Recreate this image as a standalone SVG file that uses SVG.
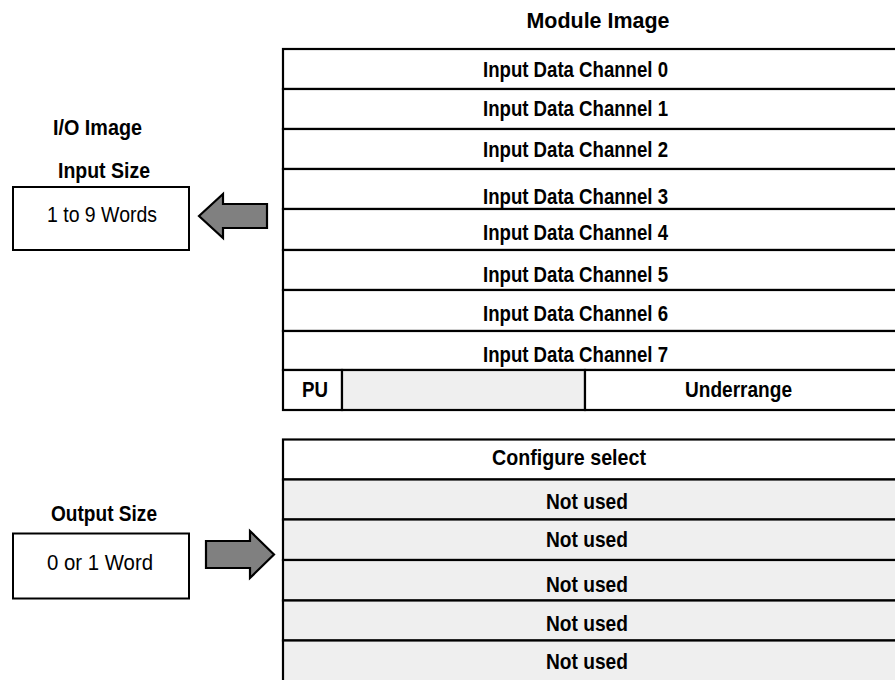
<svg xmlns="http://www.w3.org/2000/svg" width="895" height="680" viewBox="0 0 895 680">
<style>
.b{font-family:"Liberation Sans",Arial,sans-serif;font-weight:bold;font-size:22.5px;text-anchor:middle;fill:#000}
.r{font-family:"Liberation Sans",Arial,sans-serif;font-weight:normal;font-size:22px;text-anchor:middle;fill:#000}
.cell{fill:#fff;stroke:#000;stroke-width:2.2}
.g{fill:#efefef;stroke:#000;stroke-width:2.2}
.box{fill:#fff;stroke:#000;stroke-width:2}
.arrow{fill:#808080;stroke:#000;stroke-width:2.2;stroke-linejoin:miter}
</style>
<rect width="895" height="680" fill="#fff"/>
<g id="title-module-image">
<text class="b" x="598" y="28" textLength="143" lengthAdjust="spacingAndGlyphs">Module Image</text>
</g>
<g id="input-table">
<g id="ch0"><rect class="cell" x="283" y="49" width="620" height="40"/><text class="b" x="575.5" y="77" textLength="185" lengthAdjust="spacingAndGlyphs">Input Data Channel 0</text></g>
<g id="ch1"><rect class="cell" x="283" y="89" width="620" height="40"/><text class="b" x="575.5" y="116" textLength="185" lengthAdjust="spacingAndGlyphs">Input Data Channel 1</text></g>
<g id="ch2"><rect class="cell" x="283" y="129" width="620" height="40"/><text class="b" x="575.5" y="157" textLength="185" lengthAdjust="spacingAndGlyphs">Input Data Channel 2</text></g>
<g id="ch3"><rect class="cell" x="283" y="169" width="620" height="40"/><text class="b" x="575.5" y="204" textLength="185" lengthAdjust="spacingAndGlyphs">Input Data Channel 3</text></g>
<g id="ch4"><rect class="cell" x="283" y="209" width="620" height="41"/><text class="b" x="575.5" y="240" textLength="185" lengthAdjust="spacingAndGlyphs">Input Data Channel 4</text></g>
<g id="ch5"><rect class="cell" x="283" y="250" width="620" height="40"/><text class="b" x="575.5" y="282" textLength="185" lengthAdjust="spacingAndGlyphs">Input Data Channel 5</text></g>
<g id="ch6"><rect class="cell" x="283" y="290" width="620" height="41"/><text class="b" x="575.5" y="321" textLength="185" lengthAdjust="spacingAndGlyphs">Input Data Channel 6</text></g>
<g id="ch7"><rect class="cell" x="283" y="331" width="620" height="39"/><text class="b" x="575.5" y="362" textLength="185" lengthAdjust="spacingAndGlyphs">Input Data Channel 7</text></g>
<g id="status-row">
<rect class="cell" x="283" y="370" width="59" height="40"/>
<rect class="g" x="342" y="370" width="243" height="40"/>
<rect class="cell" x="585" y="370" width="318" height="40"/>
<text class="b" x="315" y="397" textLength="26" lengthAdjust="spacingAndGlyphs">PU</text>
<text class="b" x="738.5" y="396.5" textLength="107" lengthAdjust="spacingAndGlyphs">Underrange</text>
</g>
</g>
<g id="output-table">
<g id="cfg"><rect class="cell" x="283" y="439.5" width="620" height="40"/><text class="b" x="569" y="464.5" textLength="154" lengthAdjust="spacingAndGlyphs">Configure select</text></g>
<g id="nu1"><rect class="g" x="283" y="479.5" width="620" height="40"/><text class="b" x="587" y="509" textLength="82" lengthAdjust="spacingAndGlyphs">Not used</text></g>
<g id="nu2"><rect class="g" x="283" y="519.5" width="620" height="40.5"/><text class="b" x="587" y="547" textLength="82" lengthAdjust="spacingAndGlyphs">Not used</text></g>
<g id="nu3"><rect class="g" x="283" y="560" width="620" height="40.5"/><text class="b" x="587" y="592" textLength="82" lengthAdjust="spacingAndGlyphs">Not used</text></g>
<g id="nu4"><rect class="g" x="283" y="600.5" width="620" height="40"/><text class="b" x="587" y="630.5" textLength="82" lengthAdjust="spacingAndGlyphs">Not used</text></g>
<g id="nu5"><rect class="g" x="283" y="640.5" width="620" height="60"/><text class="b" x="587" y="669" textLength="82" lengthAdjust="spacingAndGlyphs">Not used</text></g>
</g>
<g id="io-image-label">
<text class="b" x="97.5" y="135" textLength="89" lengthAdjust="spacingAndGlyphs">I/O Image</text>
</g>
<g id="input-size">
<text class="b" x="104" y="178" textLength="92" lengthAdjust="spacingAndGlyphs">Input Size</text>
<rect class="box" x="13" y="187" width="176" height="63"/>
<text class="r" x="102" y="222" textLength="110" lengthAdjust="spacingAndGlyphs">1 to 9 Words</text>
</g>
<g id="output-size">
<text class="b" x="104" y="521" textLength="106" lengthAdjust="spacingAndGlyphs">Output Size</text>
<rect class="box" x="13" y="533.5" width="176" height="65"/>
<text class="r" x="100" y="570" textLength="106" lengthAdjust="spacingAndGlyphs">0 or 1 Word</text>
</g>
<g id="connectors">
<polygon class="arrow" points="199,216 223,194 223,204 267,204 267,228 223,228 223,238"/>
<polygon class="arrow" points="206,541 250,541 250,531 274,554.5 250,578 250,568 206,568"/>
</g>
</svg>
